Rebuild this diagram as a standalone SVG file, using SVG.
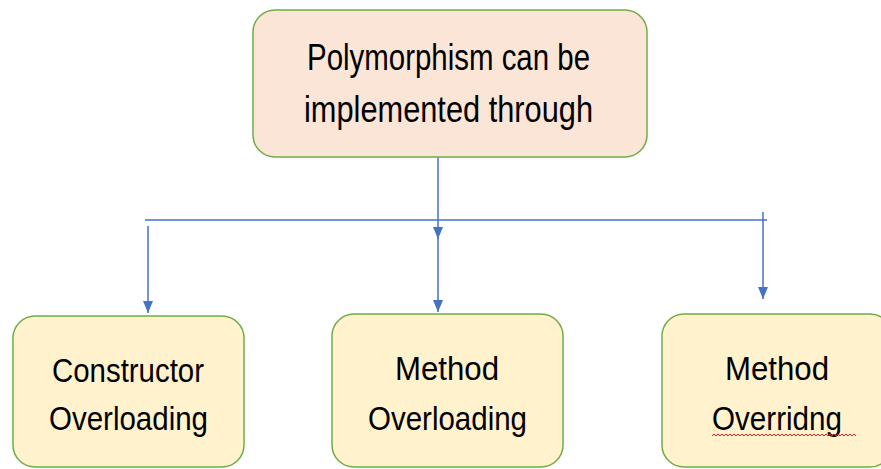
<svg xmlns="http://www.w3.org/2000/svg" width="881" height="469" viewBox="0 0 881 469">
  <defs>
    <marker id="arrow" viewBox="0 0 12 10" markerWidth="12" markerHeight="10" refX="12" refY="5" orient="auto" markerUnits="userSpaceOnUse">
      <path d="M0,0 L12,5 L0,10 Z" fill="#4472C4"/>
    </marker>
    <style>
      .root { fill: #FBE5D6; stroke: #70AD47; stroke-width: 1.5; }
      .leaf { fill: #FFF2CC; stroke: #70AD47; stroke-width: 1.5; }
      .label { font-family: "Liberation Sans", Arial, sans-serif; fill: #000; text-anchor: start; }
      .big { font-size: 36px; }
      .mid { font-size: 34px; }
      .link { stroke: #4472C4; stroke-width: 1.5; fill: none; }
      .spell { stroke: #E02020; stroke-width: 1; fill: none; }
    </style>
  </defs>
  <rect width="881" height="469" fill="#FFFFFF"/>

  <!-- connectors -->
  <g id="connectors">
    <line class="link" x1="145" y1="220" x2="767" y2="220"/>
    <line class="link" x1="438" y1="157" x2="438" y2="239" marker-end="url(#arrow)"/>
    <line class="link" x1="438" y1="238" x2="438" y2="312" marker-end="url(#arrow)"/>
    <line class="link" x1="148" y1="226" x2="148" y2="313" marker-end="url(#arrow)"/>
    <line class="link" x1="763" y1="212" x2="763" y2="299" marker-end="url(#arrow)"/>
  </g>

  <!-- top node -->
  <g id="polymorphism">
    <rect class="root" x="253" y="10" width="394" height="147" rx="22" ry="22"/>
    <text class="label big" x="307" y="70" textLength="283" lengthAdjust="spacingAndGlyphs">Polymorphism can be</text>
    <text class="label big" x="304" y="122" textLength="289" lengthAdjust="spacingAndGlyphs">implemented through</text>
  </g>

  <!-- bottom nodes -->
  <g id="constructor-overloading">
    <rect class="leaf" x="13" y="316" width="231" height="151" rx="22" ry="22"/>
    <text class="label mid" x="52" y="382" textLength="152" lengthAdjust="spacingAndGlyphs">Constructor</text>
    <text class="label mid" x="49" y="430" textLength="159" lengthAdjust="spacingAndGlyphs">Overloading</text>
  </g>

  <g id="method-overloading">
    <rect class="leaf" x="332" y="314" width="231" height="153" rx="22" ry="22"/>
    <text class="label mid" x="395" y="380" textLength="104" lengthAdjust="spacingAndGlyphs">Method</text>
    <text class="label mid" x="368" y="430" textLength="159" lengthAdjust="spacingAndGlyphs">Overloading</text>
  </g>

  <g id="method-overriding">
    <rect class="leaf" x="662" y="314" width="230" height="153" rx="22" ry="22"/>
    <text class="label mid" x="725" y="380" textLength="104" lengthAdjust="spacingAndGlyphs">Method</text>
    <text class="label mid" x="712" y="430" textLength="130" lengthAdjust="spacingAndGlyphs">Overridng</text>
    <path class="spell" d="M712,436 l2,-2 l2,2 l2,-2 l2,2 l2,-2 l2,2 l2,-2 l2,2 l2,-2 l2,2 l2,-2 l2,2 l2,-2 l2,2 l2,-2 l2,2 l2,-2 l2,2 l2,-2 l2,2 l2,-2 l2,2 l2,-2 l2,2 l2,-2 l2,2 l2,-2 l2,2 l2,-2 l2,2 l2,-2 l2,2 l2,-2 l2,2 l2,-2 l2,2 l2,-2 l2,2 l2,-2 l2,2 l2,-2 l2,2 l2,-2 l2,2 l2,-2 l2,2 l2,-2 l2,2 l2,-2 l2,2 l2,-2 l2,2 l2,-2 l2,2 l2,-2 l2,2 l2,-2 l2,2 l2,-2 l2,2 l2,-2 l2,2 l2,-2 l2,2 l2,-2 l2,2 l2,-2 l2,2 l2,-2 l2,2 l2,-2 l2,2"/>
  </g>
</svg>
